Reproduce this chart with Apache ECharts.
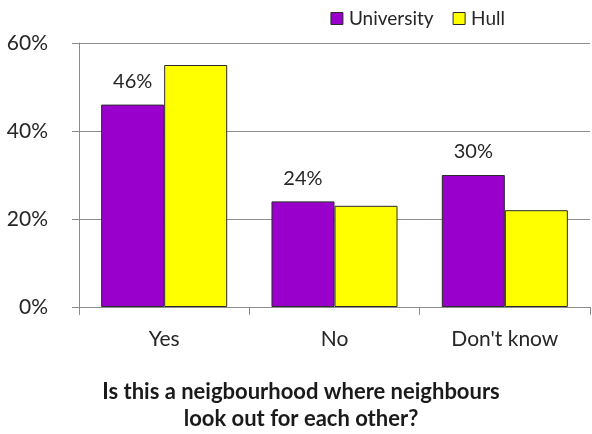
<!DOCTYPE html>
<html>
<head>
<meta charset="utf-8">
<script src="https://cdn.jsdelivr.net/npm/echarts@6/dist/echarts.min.js"></script>
<style>
  html, body { margin: 0; padding: 0; background: #fff; }
  #chart { width: 592px; height: 434px; }
</style>
</head>
<body>
<div id="chart"></div>
<script>
// Survey responses by area
const categories = ['Yes', 'No', "Don't know"];
const universityValues = [46, 24, 30];
const hullValues = [55, 23, 22];
const yTicks = { min: 0, max: 60, interval: 20 };
const questionLines = ['Is this a neigbourhood where neighbours', 'look out for each other?'];

const FONT = 'Lato, "Open Sans", sans-serif';
const axisGray = '#8c8c8c';
const textColor = '#262626';

const chart = echarts.init(document.getElementById('chart'));
chart.setOption({
  animation: false,
  textStyle: { fontFamily: FONT },
  graphic: [
    {
      type: 'text',
      x: 301,
      y: 405,
      style: {
        text: questionLines.join('\n'),
        font: 'bold 22px ' + FONT,
        fill: '#1a1a1a',
        align: 'center',
        verticalAlign: 'middle',
        lineHeight: 27
      }
    }
  ],
  legend: {
    right: 82,
    top: 4,
    itemWidth: 12,
    itemHeight: 12,
    itemGap: 19,
    icon: 'rect',
    textStyle: { fontFamily: FONT, fontSize: 19, color: textColor, padding: [0, 0, 0, 1] },
    data: [
      { name: 'University', itemStyle: { borderColor: '#2b2b2b', borderWidth: 1 } },
      { name: 'Hull', itemStyle: { borderColor: '#2b2b2b', borderWidth: 1 } }
    ]
  },
  grid: { left: 79, right: 2, top: 43, bottom: 127, containLabel: false },
  xAxis: {
    type: 'category',
    data: categories,
    axisLine: { lineStyle: { color: axisGray, width: 1 } },
    axisTick: { show: true, length: 8, lineStyle: { color: axisGray } },
    axisLabel: { fontFamily: FONT, fontSize: 21, color: textColor, margin: 22 }
  },
  yAxis: {
    type: 'value',
    min: yTicks.min,
    max: yTicks.max,
    interval: yTicks.interval,
    axisLine: { show: true, lineStyle: { color: axisGray, width: 1 } },
    axisTick: { show: true, length: 7, lineStyle: { color: axisGray } },
    splitLine: { lineStyle: { color: axisGray, width: 1 } },
    axisLabel: { fontFamily: FONT, fontSize: 21, color: textColor, margin: 31, formatter: '{value}%' }
  },
  series: [
    {
      name: 'University',
      type: 'bar',
      data: universityValues,
      barGap: '0%',
      barCategoryGap: '26%',
      itemStyle: { color: '#9900CC', borderColor: '#2b2b2b', borderWidth: 1 },
      label: {
        show: true,
        position: 'top',
        distance: 13,
        formatter: '{c}%',
        fontFamily: FONT,
        fontSize: 20,
        color: textColor
      }
    },
    {
      name: 'Hull',
      type: 'bar',
      data: hullValues,
      itemStyle: { color: '#FFFF00', borderColor: '#2b2b2b', borderWidth: 1 }
    }
  ]
});
</script>
</body>
</html>
